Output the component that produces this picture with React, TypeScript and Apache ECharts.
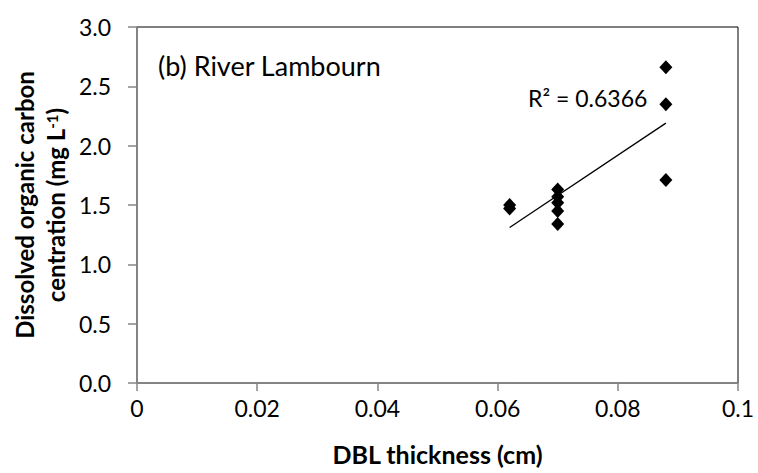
import React, { useEffect, useRef } from "react";
import * as echarts from "echarts";

const dblThickness = [0.062, 0.062, 0.07, 0.07, 0.07, 0.07, 0.07, 0.088, 0.088, 0.088];
const docConc = [1.5, 1.47, 1.63, 1.57, 1.52, 1.45, 1.34, 2.66, 2.35, 1.71];
const trendX = [0.062, 0.088];
const trendY = [1.31, 2.19];
const panelLabel = "(b) River Lambourn";
const r2Label = "R² = 0.6366";

const FONT = "Lato, 'Open Sans', sans-serif";

export default function App() {
  const ref = useRef<HTMLDivElement>(null);
  useEffect(() => {
    document.body.style.margin = "0";
    if (!ref.current) return;
    const chart = echarts.init(ref.current, undefined, { renderer: "svg" });
    chart.setOption({
      animation: false,
      backgroundColor: "#fff",
      grid: {
        left: 137,
        right: 20,
        top: 27,
        bottom: 90,
        show: true,
        borderColor: "#000",
        borderWidth: 1,
      },
      xAxis: {
        type: "value",
        min: 0,
        max: 0.1,
        interval: 0.02,
        axisLine: { show: true, lineStyle: { color: "#868686", width: 1.5 } },
        axisTick: { show: true, inside: false, length: 8, lineStyle: { color: "#868686", width: 1.5 } },
        splitLine: { show: false },
        axisLabel: { color: "#000", fontSize: 23, fontFamily: FONT, margin: 13 },
        name: "DBL thickness (cm)",
        nameLocation: "middle",
        nameGap: 58,
        nameTextStyle: { color: "#000", fontSize: 25, fontWeight: "bold", fontFamily: FONT },
      },
      yAxis: {
        type: "value",
        min: 0,
        max: 3,
        interval: 0.5,
        axisLine: { show: true, lineStyle: { color: "#868686", width: 1.5 } },
        axisTick: { show: true, inside: false, length: 9, lineStyle: { color: "#868686", width: 1.5 } },
        splitLine: { show: false },
        axisLabel: {
          color: "#000",
          fontSize: 23,
          fontFamily: FONT,
          margin: 26,
          formatter: (v: number) => v.toFixed(1),
        },
      },
      graphic: [
        {
          type: "text",
          x: 158,
          y: 65,
          style: {
            text: panelLabel,
            fill: "#000",
            font: `27px ${FONT}`,
            align: "left",
            verticalAlign: "middle",
          },
        },
        {
          type: "text",
          x: 528,
          y: 98,
          style: {
            text: r2Label,
            fill: "#000",
            font: `23px ${FONT}`,
            align: "left",
            verticalAlign: "middle",
          },
        },
        {
          type: "text",
          x: 40,
          y: 205,
          rotation: Math.PI / 2,
          style: {
            text: "{b|Dissolved organic carbon}\n{b|centration (mg L}{sup|-1}{b|)}",
            align: "center",
            verticalAlign: "middle",
            rich: {
              b: { fontSize: 24, fontWeight: "bold", fontFamily: FONT, fill: "#000", lineHeight: 31 },
              sup: { fontSize: 15, fontWeight: "bold", fontFamily: FONT, fill: "#000", lineHeight: 31, verticalAlign: "top", padding: [4, 0, 0, 0] },
            },
          },
        },
      ],
      series: [
        {
          type: "line",
          data: trendX.map((x, i) => [x, trendY[i]]),
          showSymbol: false,
          symbol: "none",
          lineStyle: { color: "#000", width: 1.3 },
          z: 2,
        },
        {
          type: "scatter",
          data: dblThickness.map((x, i) => [x, docConc[i]]),
          symbol: "diamond",
          symbolSize: [13, 14],
          itemStyle: { color: "#000", opacity: 1 },
          z: 3,
        },
      ],
    });
    return () => chart.dispose();
  }, []);
  return <div ref={ref} style={{ width: 758, height: 473 }} />;
}
